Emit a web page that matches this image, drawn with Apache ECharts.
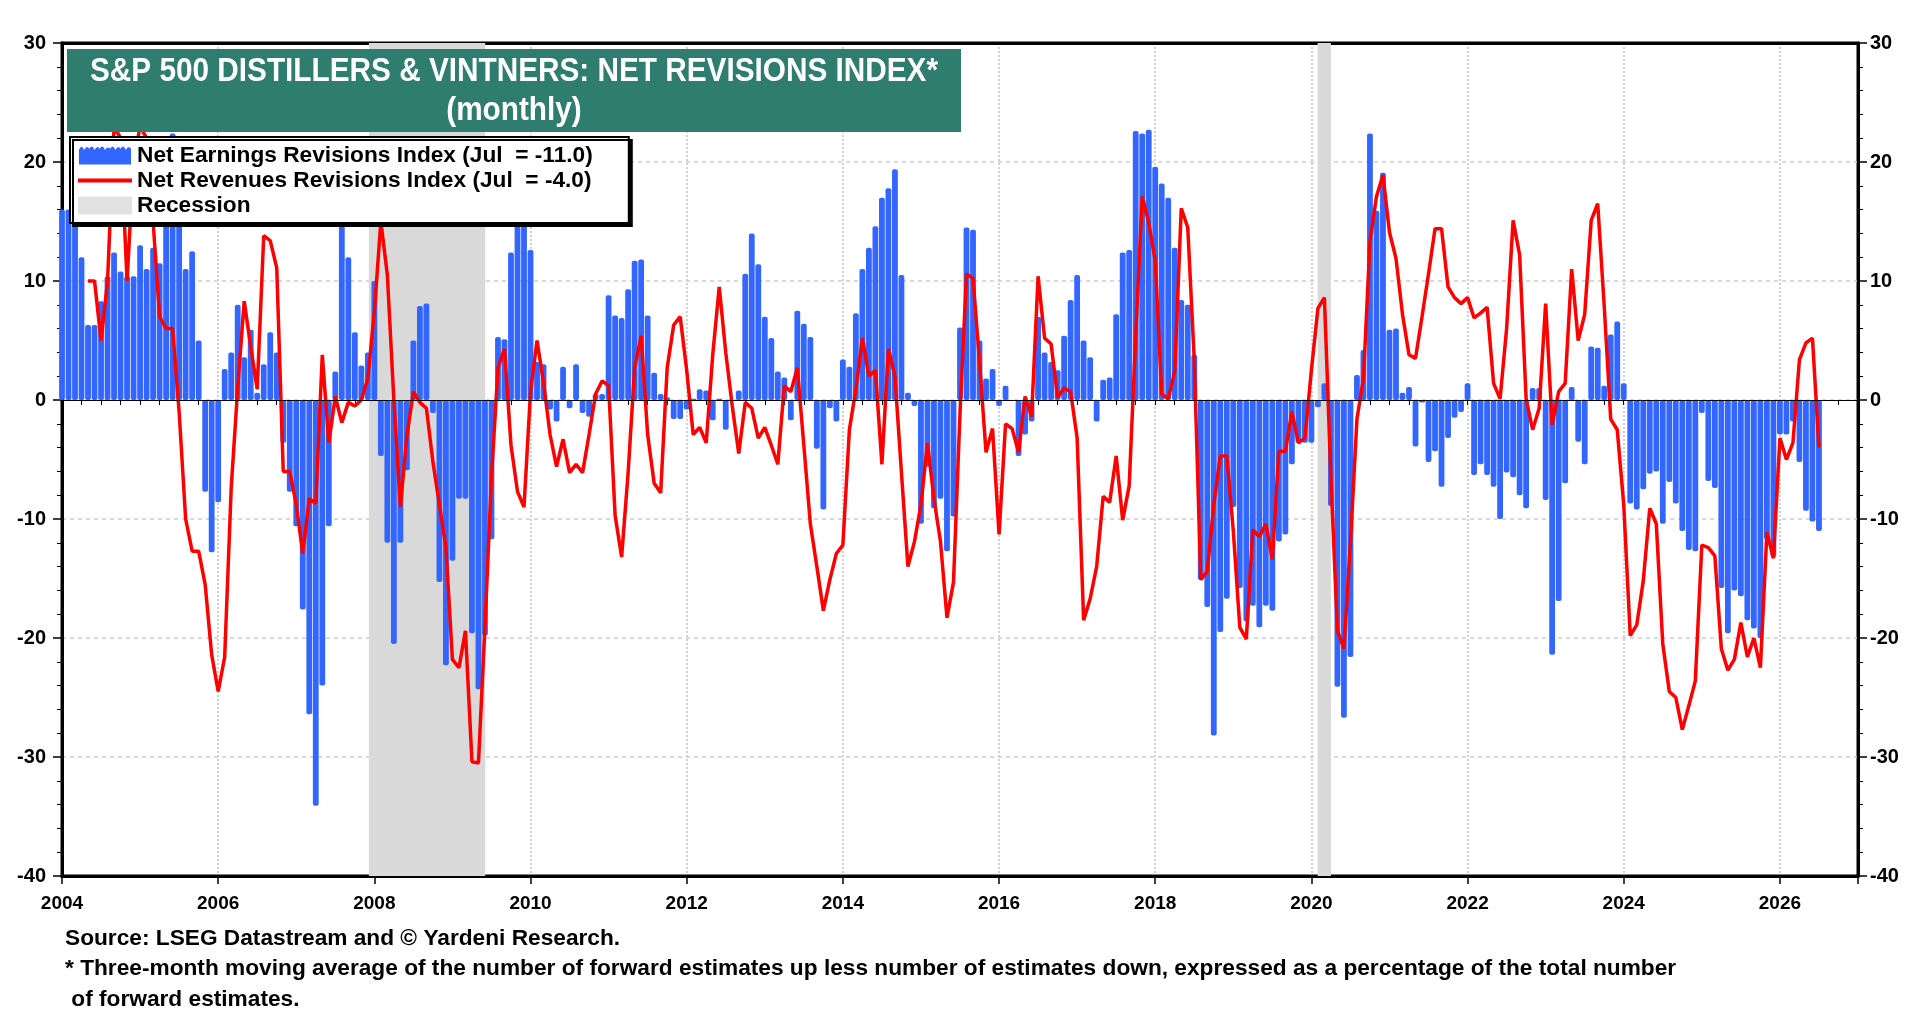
<!DOCTYPE html>
<html>
<head>
<meta charset="utf-8">
<script src="https://cdn.jsdelivr.net/npm/echarts@6/dist/echarts.min.js"></script>
<style>
html, body { margin: 0; padding: 0; background: #fff; }
#chart { width: 1920px; height: 1020px; }
</style>
</head>
<body>
<div id="chart"></div>
<script>
// monthly data, first value = Jan 2004
var startYear = 2004;

// net earnings revisions index (bars)
var earnings = [
  16, 16, 15, 12, 6.3, 6.3, 8.3, 10.4, 12.4, 10.8, 10.4, 10.4,          // 2004
  13, 11, 12.8, 11.5, 15, 22.4, 17, 11, 12.5, 5, -7.7, -12.8,           // 2005
  -8.6, 2.6, 4, 8, 3.6, 5.9, 0.6, 3, 5.7, 4, -3.6, -7.7,                // 2006
  -10.6, -17.6, -26.4, -34.1, -24, -10.6, 2.4, 15.5, 12, 5.7, 2.9, 4,   // 2007
  10, -4.7, -12, -20.5, -12, -5.9, 5, 7.9, 8.1, -1.1, -15.3, -22.3,     // 2008
  -13.5, -8.3, -8.3, -19.6, -24.3, -19.8, -11.7, 5.3, 5.1, 12.4, 16, 16,// 2009
  12.6, 3.2, 3, -0.8, -1.8, 2.8, -0.7, 3, -1.1, -1.4, 0.5, 0.5,         // 2010
  8.8, 7.1, 6.9, 9.3, 11.7, 11.8, 7.1, 2.3, 0.5, 0.2, -1.6, -1.6,       // 2011
  -0.8, 0.1, 0.9, 0.8, -1.7, 0.1, -2.5, 0, 0.8, 10.6, 14, 11.4,         // 2012
  7, 5.2, 2.4, 1.9, -1.7, 7.5, 6.4, 5.3, -4.1, -9.2, -0.7, -1.8,        // 2013
  3.4, 2.8, 7.3, 11, 12.8, 14.6, 17, 17.8, 19.4, 10.5, 0.6, -0.5,       // 2014
  -10.4, -5.6, -9.1, -8.3, -12.7, -9.8, 6.1, 14.5, 14.3, 5, 1.8, 2.6,   // 2015
  -0.5, 1.2, 0, -4.7, -2.9, -1.8, 7, 4, 3.2, 2.5, 5.4, 8.4,             // 2016
  10.5, 5, 3.6, -1.8, 1.7, 1.9, 7.2, 12.4, 12.6, 22.6, 22.4, 22.7,      // 2017
  19.6, 18.2, 17, 12.8, 8.4, 8, 3.8, -15.1, -17.4, -28.2, -19.5, -16.7, // 2018
  -9, -15.8, -18.6, -17.3, -19.1, -17.3, -17.7, -11.9, -11.3, -5.4, -3.6, -3.6, // 2019
  -3.6, -0.6, 1.4, -8.9, -24.1, -26.7, -21.6, 2.1, 4.2, 22.4, 15.9, 19.1,       // 2020
  5.9, 6, 0.6, 1.1, -3.9, -0.2, -5.2, -4.3, -7.3, -3.2, -1.5, -1,       // 2021
  1.4, -6.3, -5.4, -6.3, -7.3, -10, -6.1, -6.5, -8, -9.1, 1, 1,         // 2022
  -8.4, -21.4, -16.9, -7, 1.1, -3.5, -5.4, 4.5, 4.4, 1.2, 5.5, 6.6,     // 2023
  1.4, -8.7, -9.2, -7.5, -6.2, -6, -10.4, -6.9, -8.7, -11, -12.6, -12.7,// 2024
  -1.1, -6.8, -7.4, -15.8, -19.6, -16, -16.5, -18.5, -19.2, -20, -11.7, -13.2, // 2025
  -2.9, -2.9, -1.8, -5.2, -9.3, -10.2, -11                              // 2026
];

// net revenues revisions index (line)
var revenues = [
  null, null, null, null, 10, 10, 5, 10, 23, 22, 10, 20,                // 2004
  23, 22, 15, 7, 6, 6, -1, -10, -12.7, -12.7, -15.5, -21.4,             // 2005
  -24.5, -21.6, -7.4, 1, 8.3, 4.5, 0.9, 13.8, 13.4, 11.1, -6, -6,       // 2006
  -8.8, -12.9, -8.3, -8.7, 3.8, -3.6, 0.3, -1.9, -0.2, -0.5, 0, 1.8,    // 2007
  7.4, 15, 10.5, 0, -9, -3, 0.7, -0.2, -0.7, -5.2, -8.8, -12.4,         // 2008
  -21.8, -22.5, -19.4, -30.4, -30.5, -19, -6.5, 2.7, 4.3, -3.8, -7.7, -9, // 2009
  0.7, 5, 1.5, -2.9, -5.6, -3.3, -6.1, -5.4, -6.1, -2.9, 0.5, 1.6,      // 2010
  1.2, -9.7, -13.2, -6.1, 2.7, 5.4, -2.9, -7, -7.8, 2.7, 6.3, 7,        // 2011
  2.5, -2.9, -2.3, -3.6, 3.8, 9.5, 4, -0.5, -4.5, -0.2, -0.7, -3.2,     // 2012
  -2.3, -3.8, -5.4, 1.2, 0.7, 2.7, -3.8, -10.4, -14, -17.7, -15.1, -12.9, // 2013
  -12.2, -2.5, 0.9, 5.2, 2, 2.5, -5.4, 4.3, 2, -6.1, -14, -11.9,        // 2014
  -8.8, -3.6, -8.3, -11.9, -18.3, -15.3, -1.1, 10.6, 10.2, 3.2, -4.4, -2.4, // 2015
  -11.3, -2, -2.4, -4.4, 0.3, -1.4, 10.4, 5.2, 4.7, 0.2, 1, 0.7,        // 2016
  -3.2, -18.5, -16.7, -14, -8.1, -8.6, -4.7, -10.1, -7.2, 5.4, 17.1, 14.9, // 2017
  11.7, 0.5, 0.1, 2.4, 16.1, 14.5, 3.4, -15.1, -14.4, -8.8, -4.7, -4.7, // 2018
  -11, -19.1, -20.1, -10.9, -11.5, -10.4, -13.4, -4.3, -4.3, -1, -3.6, -3.2, // 2019
  2.5, 7.7, 8.6, -6.5, -19.4, -20.9, -12, -1.6, 1.8, 13.3, 17.1, 18.9,  // 2020
  14.1, 11.9, 7.2, 3.8, 3.5, 7, 10.6, 14.4, 14.4, 9.5, 8.6, 8.1,        // 2021
  8.6, 6.9, 7.3, 7.8, 1.4, 0.1, 6, 15.1, 12.2, 0.1, -2.5, -0.7,         // 2022
  8.1, -2.1, 0.7, 1.4, 11, 5, 7.2, 15.1, 16.5, 7.9, -1.6, -2.5,         // 2023
  -8.8, -19.8, -18.9, -15.2, -9.1, -10.4, -20.5, -24.5, -25, -27.7, -25.7, -23.6, // 2024
  -12.2, -12.4, -13.1, -20.9, -22.7, -21.8, -18.7, -21.6, -20, -22.5, -11.1, -13.3, // 2025
  -3.2, -5, -3.6, 3.4, 4.8, 5.2, -4                                     // 2026
];

// recession periods (decimal years)
var recessions = [[2007.93, 2009.42], [2020.08, 2020.25]];

var xRange = [2004, 2027];
var yRange = [-40, 30];

var earnName = 'Net Earnings Revisions Index (Jul  = -11.0)';
var revName = 'Net Revenues Revisions Index (Jul  = -4.0)';
var recName = 'Recession';

var titleLines = ['S&P 500 DISTILLERS & VINTNERS: NET REVISIONS INDEX*', '(monthly)'];
var notes = [
  'Source: LSEG Datastream and \u00a9 Yardeni Research.',
  '* Three-month moving average of the number of forward estimates up less number of estimates down, expressed as a percentage of the total number',
  ' of forward estimates.'
];

function toPairs(arr) {
  return arr.map(function (v, i) { return [startYear + i / 12, v]; });
}

var boldFont = '"Liberation Sans", Arial, sans-serif';

var chart = echarts.init(document.getElementById('chart'), null, { renderer: 'canvas' });

function yAxisCfg(pos) {
  return {
    type: 'value', min: yRange[0], max: yRange[1], interval: 10, position: pos,
    axisLine: { show: true, lineStyle: { color: '#000', width: 3 } },
    axisTick: { show: true, length: 9, lineStyle: { color: '#000', width: 1.5 } },
    minorTick: { show: true, splitNumber: 5, length: 5, lineStyle: { color: '#000', width: 1 } },
    axisLabel: { fontSize: 20, fontWeight: 'bold', color: '#000', fontFamily: boldFont, margin: pos === 'left' ? 16 : 12 },
    splitLine: { show: pos === 'left', showMinLine: false, showMaxLine: false, lineStyle: { color: '#cdcdcd', type: [4, 4], width: 1.5 } }
  };
}

chart.setOption({
  animation: false,
  backgroundColor: '#fff',
  grid: { left: 62, right: 62, top: 43, bottom: 144, show: true, borderColor: '#000', borderWidth: 3 },
  xAxis: [{
    type: 'value', min: xRange[0], max: xRange[1], interval: 2, position: 'bottom',
    axisLine: { onZero: false, lineStyle: { color: '#000', width: 3 } },
    axisTick: { show: true, length: 8, lineStyle: { color: '#000', width: 1.5 } },
    axisLabel: {
      formatter: function (v) { return v % 2 === 0 ? String(v) : ''; },
      fontSize: 19, fontWeight: 'bold', color: '#000', fontFamily: boldFont, margin: 18
    },
    splitLine: { show: true, showMinLine: false, showMaxLine: false, lineStyle: { color: '#d0d0d0', type: [2, 2], width: 2 } }
  }, {
    // quarterly minor ticks
    type: 'value', min: xRange[0], max: xRange[1], interval: 0.25, position: 'bottom',
    axisLine: { show: false },
    axisTick: { show: true, length: 5, lineStyle: { color: '#000', width: 1 } },
    axisLabel: { show: false },
    splitLine: { show: false }
  }, {
    // top frame
    type: 'value', min: xRange[0], max: xRange[1], position: 'top',
    axisLine: { onZero: false, lineStyle: { color: '#000', width: 3 } },
    axisTick: { show: false }, axisLabel: { show: false }, splitLine: { show: false }
  }],
  yAxis: [yAxisCfg('left'), yAxisCfg('right')],
  legend: {
    orient: 'vertical', left: 70, top: 137,
    backgroundColor: '#fff', borderColor: '#000', borderWidth: 2,
    shadowColor: '#000', shadowOffsetX: 3, shadowOffsetY: 3, shadowBlur: 0,
    padding: [7, 36, 6, 6], itemGap: 2, itemWidth: 54, itemHeight: 18,
    selectedMode: false,
    textStyle: { fontFamily: boldFont, fontWeight: 'bold', fontSize: 22.7, color: '#000' },
    data: [
      { name: earnName, icon: 'path://M0,20L0,6Q2.5,0 5,6Q7.5,1 10,5Q12.5,0 15,6Q17.5,1 20,5Q22.5,0 25,6Q27.5,2 30,5Q32.5,0 35,6Q37.5,1 40,5Q42.5,0 45,6Q47.5,1 50,5L50,20Z' },
      { name: revName, itemStyle: { opacity: 0, color: 'rgba(0,0,0,0)', borderWidth: 0 }, lineStyle: { width: 4, color: '#ff0000' } },
      { name: recName, icon: 'rect' }
    ]
  },
  graphic: [
    { type: 'rect', shape: { x: 67, y: 49, width: 894, height: 83 }, style: { fill: '#2e7d6e' }, z: 100 },
    { type: 'text', x: 514, y: 72, scaleX: 0.875, z: 101, style: { text: titleLines[0], fill: '#fff', font: 'bold 34px ' + boldFont, align: 'center', verticalAlign: 'middle' } },
    { type: 'text', x: 514, y: 111, scaleX: 0.875, z: 101, style: { text: titleLines[1], fill: '#fff', font: 'bold 34px ' + boldFont, align: 'center', verticalAlign: 'middle' } },
    { type: 'text', x: 65, y: 939, z: 101, style: { text: notes[0], fill: '#000', font: 'bold 22.7px ' + boldFont, verticalAlign: 'middle' } },
    { type: 'text', x: 65, y: 969, z: 101, style: { text: notes[1], fill: '#000', font: 'bold 22.7px ' + boldFont, verticalAlign: 'middle' } },
    { type: 'text', x: 65, y: 1000, z: 101, style: { text: notes[2], fill: '#000', font: 'bold 22.7px ' + boldFont, verticalAlign: 'middle' } }
  ],
  series: [{
    name: recName, type: 'scatter', data: [], z: 1, silent: true,
    itemStyle: { color: '#d9d9d9' },
    markArea: {
      silent: true, label: { show: false },
      itemStyle: { color: '#d9d9d9' },
      data: recessions.map(function (r) { return [{ xAxis: r[0] }, { xAxis: r[1] }]; })
    },
    markLine: {
      silent: true, symbol: 'none', label: { show: false },
      lineStyle: { color: '#000', width: 1, type: 'solid' },
      data: [{ yAxis: 0 }]
    }
  }, {
    name: earnName, type: 'bar', z: 2,
    data: toPairs(earnings),
    barWidth: 5.8,
    itemStyle: { color: '#3366ff', borderRadius: 2 }
  }, {
    name: revName, type: 'line', z: 3,
    data: toPairs(revenues),
    symbol: 'none', connectNulls: false,
    lineStyle: { color: '#ff0000', width: 3.5 },
    itemStyle: { color: '#ff0000' }
  }]
});
</script>
</body>
</html>
